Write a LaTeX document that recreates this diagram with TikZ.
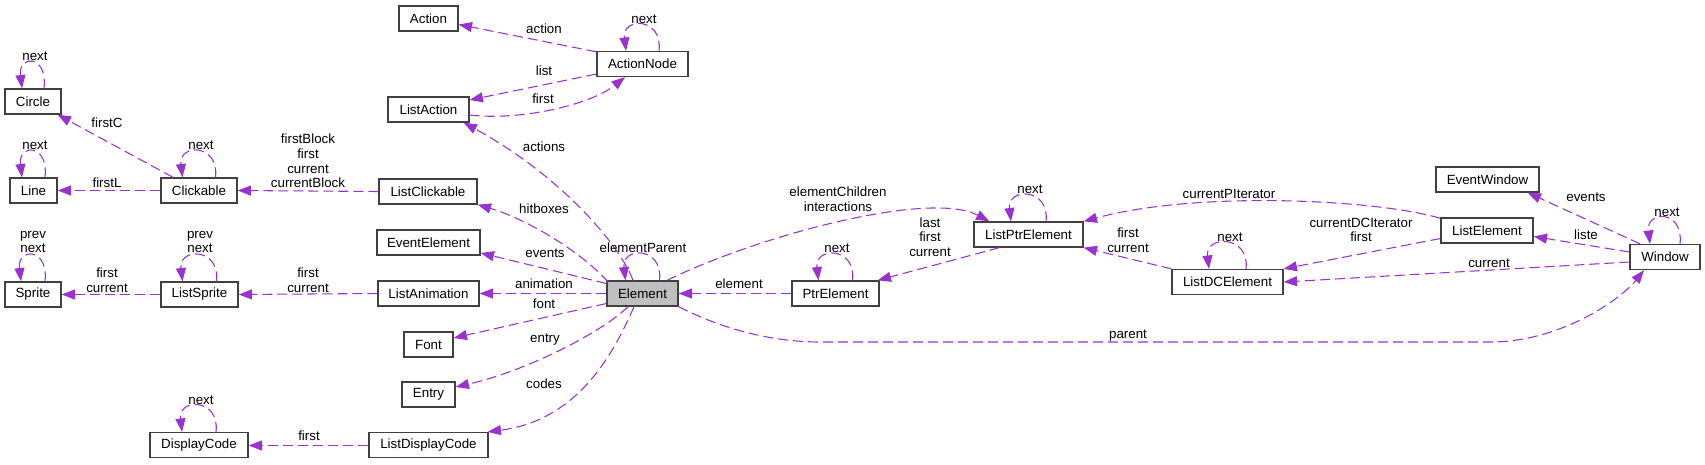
\documentclass[tikz,border=0pt]{standalone}
\usepackage{fontspec}
\setmainfont{Liberation Sans}
\usetikzlibrary{arrows.meta, calc}
\definecolor{edgepurple}{HTML}{9A32CD}
\definecolor{boxgray}{HTML}{BFBFBF}
\tikzset{
  cls/.style={draw=black!75, line width=1pt, fill=white, minimum height=18.75pt,
    inner xsep=0pt, inner ysep=0pt, font=\fontsize{10}{11}\selectfont},
  dep/.style={edgepurple, line width=0.8pt, dash pattern=on 7.5pt off 3.75pt,
    -{Triangle[length=10pt,width=7.5pt]}},
  lbl/.style={font=\fontsize{10}{11}\selectfont, align=center, inner sep=0pt}
}
\begin{document}
\begin{tikzpicture}[x=0.75pt, y=-0.75pt]
\path[fill=white] (0,0) rectangle (1705,464);
% classes
\node[cls, minimum width=44.25pt] (action) at (428.5,18.5) {Action};
\node[cls, minimum width=68.25pt] (actionnode) at (642.5,64) {ActionNode};
\node[cls, minimum width=60.75pt] (listaction) at (428.5,109.5) {ListAction};
\node[cls, minimum width=42pt] (circle) at (33,101.5) {Circle};
\node[cls, minimum width=35.25pt] (linec) at (33.5,190.5) {Line};
\node[cls, minimum width=57pt] (clickable) at (199,190.5) {Clickable};
\node[cls, minimum width=73.5pt] (listclick) at (428,191.5) {ListClickable};
\node[cls, minimum width=77.25pt] (eventelem) at (428.5,242.5) {EventElement};
\node[cls, minimum width=42pt] (sprite) at (33,294.5) {Sprite};
\node[cls, minimum width=57.75pt] (listsprite) at (199.5,294.5) {ListSprite};
\node[cls, minimum width=75.75pt] (listanim) at (428.5,293.5) {ListAnimation};
\node[cls, minimum width=53.25pt, fill=boxgray] (element) at (642.5,293.5) {Element};
\node[cls, minimum width=36.75pt] (fontbox) at (428.5,344.5) {Font};
\node[cls, minimum width=39.75pt] (entry) at (428.5,394.5) {Entry};
\node[cls, minimum width=73.5pt] (dispcode) at (199,445) {DisplayCode};
\node[cls, minimum width=89.25pt] (listdisp) at (428.5,445) {ListDisplayCode};
\node[cls, minimum width=65.25pt] (ptrelem) at (835.5,293.5) {PtrElement};
\node[cls, minimum width=81.75pt] (listptr) at (1028.5,234.5) {ListPtrElement};
\node[cls, minimum width=83.25pt] (listdc) at (1227.5,282) {ListDCElement};
\node[cls, minimum width=69pt] (listelem) at (1487,230.5) {ListElement};
\node[cls, minimum width=77.25pt] (eventwin) at (1487.5,179.5) {EventWindow};
\node[cls, minimum width=52.5pt] (window) at (1665,257) {Window};

% actions
\draw[dep] ($(actionnode.north west)+(0,1)$) -- ($(action.east)+(0,6)$);
\draw[dep] ($(actionnode.west)+(0,10)$) -- ($(listaction.east)+(0,-9.5)$);
\draw[dep] ($(listaction.east)+(0,5.5)$) .. controls (520,121) and (590,105) .. ($(actionnode.south)+(-17.5,0)$);
% element
\draw[dep] ($(element.north)+(-9.5,0)$) .. controls (620,245) and (560,175) .. ($(listaction.south east)+(-6,0)$);
\draw[dep] ($(element.north west)+(2,2)$) .. controls (585,255) and (530,220) .. (listclick.south east);
\draw[dep] ($(element.west)+(0,-10)$) -- ($(eventelem.east)+(0,10.5)$);
\draw[dep] (element.west) -- (listanim.east);
\draw[dep] ($(element.west)+(0,10)$) -- ($(fontbox.east)+(0,-6.5)$);
\draw[dep] ($(element.south)+(-14.5,0)$) .. controls (605,330) and (530,370) .. ($(entry.east)+(0,-7.5)$);
\draw[dep] ($(element.south)+(-8.5,0)$) .. controls (615,350) and (580,420) .. ($(listdisp.north east)+(-1,0)$);
\draw[dep] ($(element.north)+(24.5,0)$) .. controls (760,235) and (930,190) .. ($(listptr.north west)+(16,0)$);
\draw[dep] (element.south east) .. controls (720,328) and (770,342) .. (820,342) -- (1490,342)
  .. controls (1560,342) and (1620,300) .. ($(window.south)+(-21,0)$);
% pointer lists
\draw[dep] (ptrelem.west) -- (element.east);
\draw[dep] ($(listptr.south west)+(26,0)$) -- ($(ptrelem.north east)+(-2,0)$);
\draw[dep] (listdc.north west) -- (listptr.south east);
\draw[dep] ($(listelem.north west)+(0,1)$) .. controls (1380,200) and (1200,190) .. (listptr.north east);
\draw[dep] ($(listelem.west)+(0,8)$) -- (listdc.north east);
\draw[dep] ($(window.west)+(0,-5)$) -- ($(listelem.east)+(0,6)$);
\draw[dep] ($(window.west)+(0,5)$) -- (listdc.east);
\draw[dep] ($(window.north)+(-25,0)$) -- ($(eventwin.south east)+(-12,0)$);
% left side
\draw[dep] ($(clickable.north)+(-26,0)$) -- ($(circle.south east)+(-4,0)$);
\draw[dep] (clickable.west) -- (linec.east);
\draw[dep] (listclick.west) -- (clickable.east);
\draw[dep] (listanim.west) -- (listsprite.east);
\draw[dep] (listsprite.west) -- (sprite.east);
\draw[dep] ($(listdisp.west)+(0,0.5)$) -- ($(dispcode.east)+(0,0.5)$);
% self loops
\foreach \n/\d in {actionnode/16.5, element/17, clickable/16.5, circle/11, linec/11.5, sprite/12,
    listsprite/17, dispcode/17, ptrelem/17, listptr/17.5, listdc/18.5, window/15}
  \draw[dep] ($(\n.north)+(\d,0)$) .. controls +(4,-34) and +(-4,-34) .. ($(\n.north)+(-\d,0)$);

% labels
\node[lbl] (t-action) at (544,29) {action};
\node[lbl] (t-annext) at (644,19) {next};
\node[lbl] (t-list) at (544,71) {list};
\node[lbl] (t-first) at (543,99) {first};
\node[lbl] (t-actions) at (544,147) {actions};
\node[lbl] (t-hitboxes) at (544,209) {hitboxes};
\node[lbl] (t-events) at (545,253) {events};
\node[lbl] (t-animation) at (544,284) {animation};
\node[lbl] (t-font) at (544,304) {font};
\node[lbl] (t-entry) at (545,340) {entry};
\node[lbl] (t-codes) at (544,384) {codes};
\node[lbl] (t-parentel) at (643,248) {elementParent};
\node[lbl] (t-element) at (739,284) {element};
\node[lbl] (t-children) at (838,199) {elementChildren\\interactions};
\node[lbl] (t-lastfirst) at (930,237) {last\\first\\current};
\node[lbl] (t-penext) at (837,248) {next};
\node[lbl] (t-lpnext) at (1030,189) {next};
\node[lbl] (t-dcfirst) at (1128,240) {first\\current};
\node[lbl] (t-parent) at (1128,336) {parent};
\node[lbl] (t-piter) at (1229,194) {currentPIterator};
\node[lbl] (t-dciter) at (1361,230) {currentDCIterator\\first};
\node[lbl] (t-dcnext) at (1230,237) {next};
\node[lbl] (t-wevents) at (1586,197) {events};
\node[lbl] (t-liste) at (1586,235) {liste};
\node[lbl] (t-wnext) at (1667,212) {next};
\node[lbl] (t-current) at (1489,263) {current};
\node[lbl] (t-cinext) at (35,56) {next};
\node[lbl] (t-firstc) at (107,123) {firstC};
\node[lbl] (t-lnnext) at (35,145) {next};
\node[lbl] (t-firstl) at (107,183) {firstL};
\node[lbl] (t-clnext) at (201,145) {next};
\node[lbl] (t-blocks) at (308,161) {firstBlock\\first\\current\\currentBlock};
\node[lbl] (t-spnext) at (33,242) {prev\\next};
\node[lbl] (t-lsnext) at (200,242) {prev\\next};
\node[lbl] (t-spfirst) at (107,280) {first\\current};
\node[lbl] (t-lsfirst) at (308,280) {first\\current};
\node[lbl] (t-dpnext) at (201,400) {next};
\node[lbl] (t-dpfirst) at (309,436) {first};
\end{tikzpicture}
\end{document}
